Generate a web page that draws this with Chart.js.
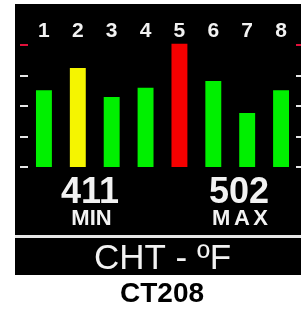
<!DOCTYPE html>
<html>
<head>
<meta charset="utf-8">
<script src="https://cdn.jsdelivr.net/npm/chart.js@4.4.0/dist/chart.umd.min.js"></script>
<style>
  body { margin: 0; background: #fff; }
  canvas { display: block; }
</style>
</head>
<body>
<canvas id="chtChart" width="301" height="309"></canvas>
<script>
// Cylinder head temperatures, one bar per cylinder
const cylinders = ['1', '2', '3', '4', '5', '6', '7', '8'];
const chtValues = [441, 470, 432, 444, 502, 453, 411, 441];
const barColors = ['#00f000', '#f5f500', '#00f000', '#00f000', '#f50000', '#00f000', '#00f000', '#00f000'];
const tickValues = [340, 380, 420, 460, 500];
const redlineValue = 500;
const minReading = '411';
const maxReading = '502';

const FONT = '"Liberation Sans", Arial, sans-serif';

// draw a string with extra space between letters, centred on x
function spacedText(ctx, text, x, y, spacing) {
    const widths = [...text].map(c => ctx.measureText(c).width);
    const total = widths.reduce((a, b) => a + b, 0) + spacing * (text.length - 1);
    let cx = x - total / 2;
    ctx.textAlign = 'left';
    [...text].forEach((c, i) => {
        ctx.fillText(c, cx, y);
        cx += widths[i] + spacing;
    });
}

const panelPlugin = {
    id: 'panel',
    beforeDraw(chart) {
        const ctx = chart.ctx;
        ctx.save();
        ctx.fillStyle = '#fff';
        ctx.fillRect(0, 0, chart.width, chart.height);
        ctx.fillStyle = '#000';
        ctx.fillRect(15, 4, 286, 271);
        ctx.restore();
    },
    afterDraw(chart) {
        const ctx = chart.ctx;
        const x = chart.scales.x;
        const y = chart.scales.y;
        ctx.save();

        // cylinder numbers
        ctx.fillStyle = '#f2f2f2';
        ctx.font = 'bold 21px ' + FONT;
        ctx.textAlign = 'center';
        ctx.textBaseline = 'alphabetic';
        cylinders.forEach((c, i) => {
            ctx.fillText(c, x.getPixelForValue(i), 37);
        });

        // scale marks on both sides
        tickValues.forEach(v => {
            const py = Math.round(y.getPixelForValue(v)) - 1;
            ctx.fillStyle = v === redlineValue ? '#e0103a' : '#e6e6e6';
            ctx.fillRect(20, py, 8, 2);
            ctx.fillRect(296, py, 5, 2);
        });

        // min / max readouts
        ctx.fillStyle = '#f2f2f2';
        ctx.textAlign = 'center';
        ctx.font = 'bold 36px ' + FONT;
        ctx.fillText(minReading, 90, 203);
        ctx.fillText(maxReading, 239, 203);
        ctx.font = 'bold 22px ' + FONT;
        ctx.fillText('MIN', 91.5, 225);
        spacedText(ctx, 'MAX', 240, 225, 3.5);

        // divider
        ctx.fillStyle = '#e6e6e6';
        ctx.fillRect(15, 235, 286, 3);

        // title
        ctx.fillStyle = '#f2f2f2';
        ctx.font = '35px ' + FONT;
        ctx.textAlign = 'center';
        ctx.fillText('CHT - ºF', 162.5, 269);

        // model name
        ctx.fillStyle = '#000';
        ctx.font = 'bold 28px ' + FONT;
        ctx.fillText('CT208', 162, 302);

        ctx.restore();
    }
};

new Chart(document.getElementById('chtChart'), {
    type: 'bar',
    data: {
        labels: cylinders,
        datasets: [{
            data: chtValues,
            backgroundColor: barColors,
            borderWidth: 0,
            categoryPercentage: 1,
            barPercentage: 0.47
        }]
    },
    options: {
        responsive: false,
        animation: false,
        devicePixelRatio: 1,
        layout: {
            padding: { left: 27, right: 3, top: 30, bottom: 142 }
        },
        scales: {
            x: { display: false },
            y: { display: false, min: 340, max: 520 }
        },
        plugins: {
            legend: { display: false },
            tooltip: { enabled: false }
        }
    },
    plugins: [panelPlugin]
});
</script>
</body>
</html>
